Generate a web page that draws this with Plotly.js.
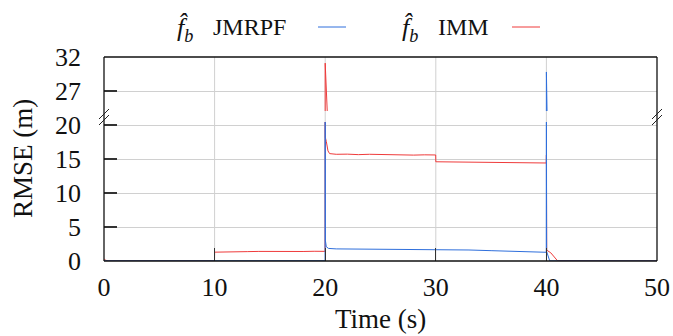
<!DOCTYPE html>
<html><head><meta charset="utf-8">
<script src="https://cdn.plot.ly/plotly-3.0.1.min.js"></script>
<style>body{margin:0;background:#fff}</style>
</head><body><div id="chart" style="width:673px;height:336px"></div>
<script>
// ---- data ----
const timeJMRPF = [0, 5, 10, 15, 19.99, 20, 20.02, 20.1, 20.3, 21, 23, 25, 27, 29, 31, 33, 35, 37, 39, 39.99, 40, 40.02, 40.3, 45, 50];
const rmseJMRPF = [0.03, 0.03, 0.04, 0.04, 0.04, 20.8, 3.0, 2.1, 1.85, 1.78, 1.76, 1.74, 1.73, 1.72, 1.74, 1.62, 1.52, 1.42, 1.33, 1.28, 29.8, 1.4, 0.02, 0.02, 0.02];

const timeIMM = [0, 0.15, 0.4, 5, 9.99, 10, 11, 12, 13, 14, 15, 16, 17, 18, 19, 19.99, 20, 20.01, 20.1, 20.25, 20.4, 21, 22, 23, 24, 25, 26, 27, 28, 29, 29.99, 30, 31, 32, 33, 34, 35, 36, 37, 38, 39, 39.99, 40, 40.03, 40.4, 41, 45, 50];
const rmseIMM = [0.35, 0.1, 0.03, 0.03, 0.03, 1.30, 1.36, 1.40, 1.38, 1.41, 1.39, 1.37, 1.41, 1.40, 1.43, 1.42, 31.1, 18.2, 17.6, 16.2, 15.8, 15.7, 15.72, 15.65, 15.7, 15.66, 15.6, 15.64, 15.58, 15.62, 15.6, 14.6, 14.58, 14.55, 14.6, 14.52, 14.5, 14.55, 14.48, 14.5, 14.45, 14.42, 15.6, 1.6, 1.2, 0.04, 0.03, 0.03];

const xTicks = [0, 10, 20, 30, 40, 50];
const yTicksLow = [0, 5, 10, 15, 20];
const yTicksHigh = [27, 32];
const seriesNames = ['JMRPF', 'IMM'];

// ---- styling ----
const blue = '#2f6fdc', red = '#ef3b3b';
const serif = "Liberation Serif";
const L = 104, R = 16, T = 57, B = 75, W = 673, H = 336;
const pw = W - L - R, ph = H - T - B;
const px2x = p => (p - L) / pw;
const py2y = p => (H - B - p) / ph;

function trace(x, y, color, yax) {
  return {x: x, y: y, type: 'scatter', mode: 'lines', yaxis: yax, xaxis: 'x',
          line: {color: color, width: 1}, showlegend: false, hoverinfo: 'skip'};
}
const data = [
  trace(timeIMM, rmseIMM, red, 'y'),
  trace(timeJMRPF, rmseJMRPF, blue, 'y'),
  trace(timeIMM, rmseIMM, red, 'y2'),
  trace(timeJMRPF, rmseJMRPF, blue, 'y2')
];

const lowTop = 0.681, highBot = 0.735;
const tickFont = {family: serif, size: 26, color: '#111'};
const grid = '#d0d0d0';

const shapes = [];
[10, 20, 30, 40].forEach(v => shapes.push({type: 'line', xref: 'x', yref: 'paper', x0: v, x1: v, y0: 0, y1: 1, line: {color: grid, width: 1}, layer: 'below'}));
const fr = {color: '#111', width: 1.3};
shapes.push({type: 'line', xref: 'paper', yref: 'paper', x0: 0, x1: 0, y0: 0, y1: 1, line: fr});
shapes.push({type: 'line', xref: 'paper', yref: 'paper', x0: 1, x1: 1, y0: 0, y1: 1, line: fr});
shapes.push({type: 'line', xref: 'paper', yref: 'paper', x0: 0, x1: 1, y0: 0, y1: 0, line: fr});
shapes.push({type: 'line', xref: 'paper', yref: 'paper', x0: 0, x1: 1, y0: 1, y1: 1, line: fr});
const by = py2y(117);
[0, 1].forEach(xa => {
  [-3, 3].forEach(off => shapes.push({type: 'line', xref: 'paper', yref: 'paper', xsizemode: 'pixel', ysizemode: 'pixel',
    xanchor: xa, yanchor: by, x0: -5, x1: 5, y0: off - 5, y1: off + 5, line: {color: '#222', width: 1}}));
});
shapes.push({type: 'line', xref: 'paper', yref: 'paper', x0: px2x(318), x1: px2x(346), y0: py2y(27), y1: py2y(27), line: {color: blue, width: 1}});
shapes.push({type: 'line', xref: 'paper', yref: 'paper', x0: px2x(512), x1: px2x(540), y0: py2y(27), y1: py2y(27), line: {color: red, width: 1}});

const lf = {family: serif, size: 27, color: '#111'};
const annotations = [
  {text: '<i>f̂</i><sub><i>b</i></sub>', xref: 'paper', yref: 'paper', x: px2x(175), y: py2y(29), xanchor: 'left', yanchor: 'middle', showarrow: false, font: {family: serif, size: 26, color: '#111'}},
  {text: seriesNames[0], xref: 'paper', yref: 'paper', x: px2x(211), y: py2y(27), xanchor: 'left', yanchor: 'middle', showarrow: false, font: {family: serif, size: 24, color: '#111'}},
  {text: '<i>f̂</i><sub><i>b</i></sub>', xref: 'paper', yref: 'paper', x: px2x(400), y: py2y(29), xanchor: 'left', yanchor: 'middle', showarrow: false, font: {family: serif, size: 26, color: '#111'}},
  {text: seriesNames[1], xref: 'paper', yref: 'paper', x: px2x(436), y: py2y(27), xanchor: 'left', yanchor: 'middle', showarrow: false, font: {family: serif, size: 24, color: '#111'}},
  {text: 'RMSE (m)', xref: 'paper', yref: 'paper', x: px2x(23), y: 0.5, xanchor: 'center', yanchor: 'middle', textangle: -90, showarrow: false, font: lf},
  {text: 'Time (s)', xref: 'paper', yref: 'paper', x: 0.5, y: py2y(319), xanchor: 'center', yanchor: 'middle', showarrow: false, font: lf}
];

const tk = {ticks: 'inside', ticklen: 13, tickcolor: '#333', tickwidth: 1.2, zeroline: false, showline: false, tickfont: tickFont};
const layout = {
  width: W, height: H,
  font: {family: serif, size: 26, color: '#111'},
  margin: {l: L, r: R, t: T, b: B, pad: 0},
  paper_bgcolor: '#fff', plot_bgcolor: '#fff',
  showlegend: false,
  xaxis: Object.assign({range: [0, 50], tickvals: xTicks, ticktext: xTicks.map(String), showgrid: false, anchor: 'y', ticklabelstandoff: 8}, tk),
  yaxis: Object.assign({domain: [0, lowTop], range: [0, 20.44], tickvals: yTicksLow, ticktext: yTicksLow.map(String), showgrid: true, gridcolor: grid, ticklabelstandoff: 22}, tk),
  yaxis2: Object.assign({domain: [highBot, 1], range: [24.06, 32], tickvals: yTicksHigh, ticktext: yTicksHigh.map(String), showgrid: true, gridcolor: grid, ticklabelstandoff: 22, anchor: 'x'}, tk),
  shapes: shapes,
  annotations: annotations
};
Plotly.newPlot('chart', data, layout, {staticPlot: true, displayModeBar: false});
</script></body></html>
